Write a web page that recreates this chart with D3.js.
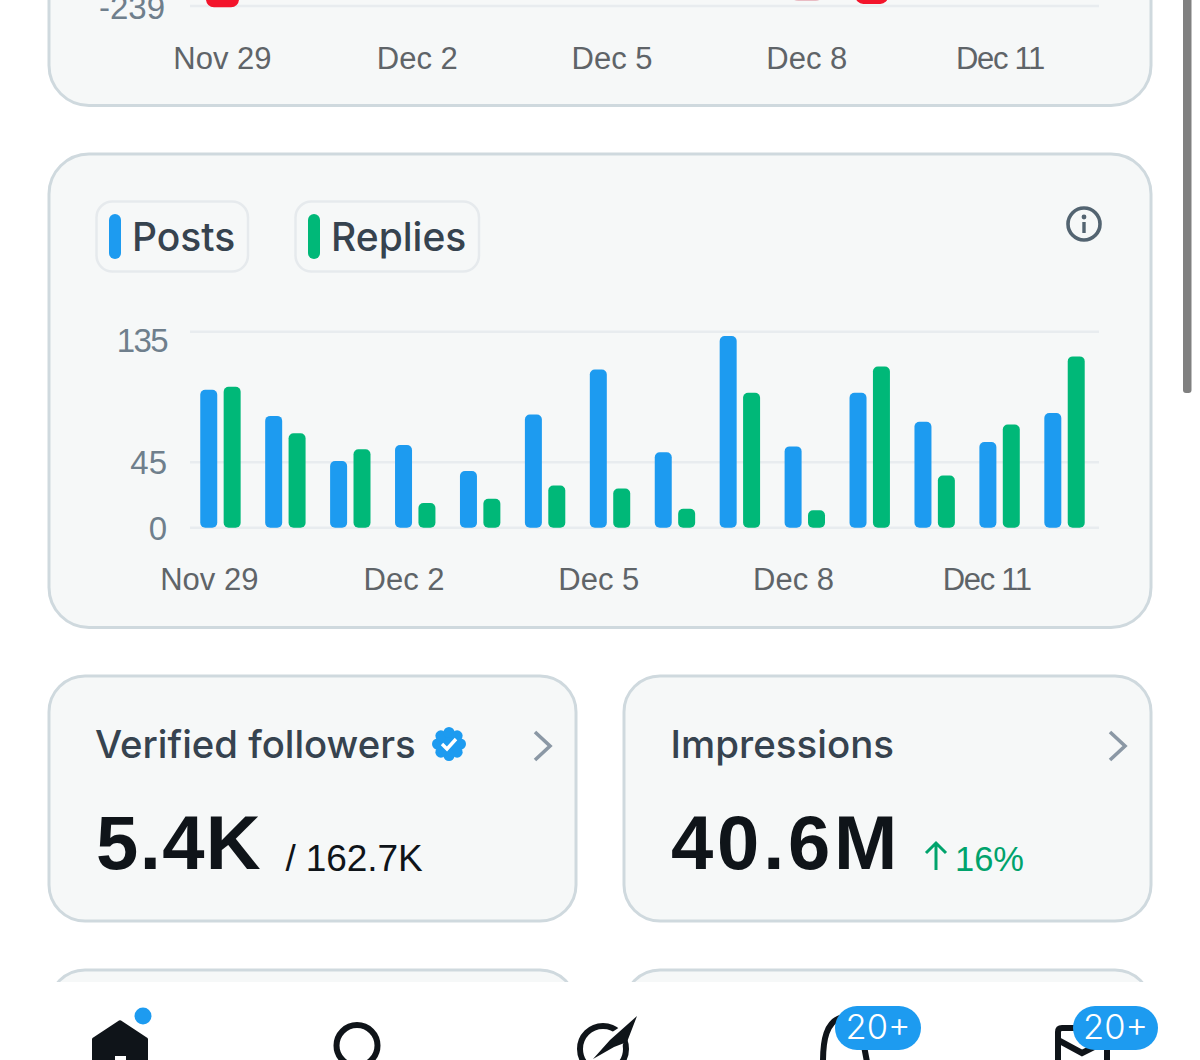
<!DOCTYPE html>
<html><head><meta charset="utf-8">
<script src="https://cdn.jsdelivr.net/npm/d3@7"></script>
<style>
html,body{margin:0;padding:0;background:#fff;overflow:hidden}
svg{display:block}
.ax{font-family:"Liberation Sans",Arial,sans-serif}
.ui{font-family:Inter,"Noto Sans",sans-serif}
</style></head><body>
<svg id="c" width="1200" height="1060" viewBox="0 0 1200 1060"></svg>
<script>
const dates=["Nov 29","Nov 30","Dec 1","Dec 2","Dec 3","Dec 4","Dec 5","Dec 6","Dec 7","Dec 8","Dec 9","Dec 10","Dec 11","Dec 12"];
const posts=[95,77,46,57,39,78,109,52,132,56,93,73,59,79];
const replies=[97,65,54,17,20,29,27,13,93,12,111,36,71,118];
const yTickValues=[0,45,135];
const xTickDates=["Nov 29","Dec 2","Dec 5","Dec 8","Dec 11"];
const topDates=["Nov 29","Dec 8","Dec 9"];
const topValues=[-240.6,-233,-236.5];
const topColors=["#f3142b","#e9bcc4","#f3142b"];
const seriesNames=["Posts","Replies"];
const seriesColors=["#1d9bf0","#00b878"];

const svg=d3.select("#c");
const CARD="#f6f8f8",EDGE="#cfd9de",GRID="#e8ecef";
function card(x,y,w,h,r){svg.append("rect").attr("x",x).attr("y",y).attr("width",w).attr("height",h).attr("rx",r).attr("fill",CARD).attr("stroke",EDGE).attr("stroke-width",3);}
card(49,-200,1102,305.5,40);
card(49,154,1102,473.5,40);
card(49,676,527,245,36);
card(624,676,527,245,36);
card(49,970,527,245,36);
card(624,970,527,245,36);
const tight=d=>d==="Dec 11"?"-1.3px":null;
const nudge=d=>d==="Dec 11"?"-1.6":0;

/* top (cropped) chart */
const x=d3.scaleBand().domain(dates).range([188,1097]).paddingInner(0).paddingOuter(0);
const yTop=d3.scaleLinear().domain([0,-239]).range([-190,6]);
svg.append("line").attr("x1",190).attr("x2",1099).attr("y1",yTop(-239)).attr("y2",yTop(-239)).attr("stroke",GRID).attr("stroke-width",2.5);
svg.append("g").selectAll("rect").data(topDates).join("rect")
 .attr("x",d=>x(d)+18).attr("width",33)
 .attr("y",(d,i)=>yTop(0)).attr("height",(d,i)=>yTop(topValues[i])-yTop(0))
 .attr("rx",8).attr("fill",(d,i)=>topColors[i]);
svg.append("text").attr("class","ax").attr("x",165).attr("y",19).attr("text-anchor","end").attr("font-size",33).attr("fill","#6f7f8c").text("-239");
const topAxis=svg.append("g").attr("transform","translate(0,69)");
topAxis.selectAll("text").data(xTickDates).join("text").attr("class","ax")
 .attr("x",d=>x(d)+x.bandwidth()/2-9.5+11.5).attr("dx",nudge).attr("text-anchor","middle").attr("font-size",31).attr("fill","#5f6468").style("letter-spacing",tight).text(d=>d);

/* main chart */
const group=d3.scaleBand().domain(seriesNames).range([12.25,52.65]).paddingInner(0.274);
const y=d3.scaleLinear().domain([0,135]).range([527.7,331.7]);
const grid=svg.append("g");
grid.selectAll("line").data(yTickValues).join("line").attr("x1",190).attr("x2",1099)
 .attr("y1",d=>y(d)).attr("y2",d=>y(d)).attr("stroke",GRID).attr("stroke-width",2.5);
[posts,replies].forEach((vals,s)=>{
 svg.append("g").selectAll("rect").data(vals).join("rect")
  .attr("x",(d,i)=>x(dates[i])+group(seriesNames[s]))
  .attr("width",group.bandwidth())
  .attr("y",d=>y(d)).attr("height",d=>y(0)-y(d))
  .attr("rx",5).attr("fill",seriesColors[s]);
});
const yAxis=svg.append("g").attr("transform","translate(167,0)")
 .call(d3.axisLeft(y).tickValues(yTickValues).tickSize(0).tickPadding(0).tickFormat(d3.format("d")));
yAxis.select(".domain").remove();
yAxis.selectAll("text").attr("class","ax").attr("font-size",33).attr("fill","#6f7f8c").attr("font-family",null)
 .style("letter-spacing",d=>d===135?"-1.6px":null)
 .attr("dy",d=>d===135?"0.6em":"0.35em");
const xAxis=svg.append("g").attr("transform","translate(0,590)")
 .call(d3.axisBottom(d3.scalePoint().domain(dates).range([208.8,208.8+13*64.92])).tickValues(xTickDates).tickSize(0).tickPadding(0));
xAxis.select(".domain").remove();
xAxis.selectAll("text").attr("class","ax").attr("font-size",31).attr("fill","#5f6468").attr("font-family",null).attr("y",0).attr("dy",0).attr("dx",nudge).style("letter-spacing",tight);

/* legend */
const lg=[{bx:96.5,bw:151.5,sx:109,tx:132},{bx:295.5,bw:183.5,sx:308,tx:331}];
lg.forEach((l,i)=>{
 svg.append("rect").attr("x",l.bx).attr("y",201.5).attr("width",l.bw).attr("height",70).attr("rx",16).attr("fill",CARD).attr("stroke","#e6eaed").attr("stroke-width",2.5);
 svg.append("rect").attr("x",l.sx).attr("y",214).attr("width",12).attr("height",45).attr("rx",6).attr("fill",seriesColors[i]);
 svg.append("text").attr("class","ui").attr("x",l.tx).attr("y",251).attr("font-size",39).attr("font-weight",500).attr("fill","#36434f").text(seriesNames[i]);
});
/* info icon */
const info=svg.append("g").attr("transform","translate(1084,224)");
info.append("circle").attr("r",16).attr("fill","none").attr("stroke","#536471").attr("stroke-width",3.6);
info.append("circle").attr("cy",-7).attr("r",2.4).attr("fill","#536471");
info.append("rect").attr("x",-1.7).attr("y",-2).attr("width",3.4).attr("height",11).attr("fill","#536471");

/* stat cards */
const T=(cls,x0,yy,size,weight,fill,txt)=>svg.append("text").attr("class",cls).attr("x",x0).attr("y",yy).attr("font-size",size).attr("font-weight",weight).attr("fill",fill).text(txt);
T("ui",95,758,38.3,500,"#36434f","Verified followers");
T("ui",670.5,758,38.5,500,"#36434f","Impressions");
T("ax",96,869,76,700,"#0f1419","5.4K").style("letter-spacing","1.4px");
T("ax",671,869,76,700,"#0f1419","40.6M").style("letter-spacing","3.8px");
T("ax",285.5,871,37,400,"#0f1419","/ 162.7K").style("letter-spacing","-0.1px");
T("ax",955,871,34.5,400,"#00a36c","16%");
svg.append("path").attr("d","M936 870V843M926 853L936 843L946 853").attr("fill","none").attr("stroke","#00a36c").attr("stroke-width",3);
[535,1110].forEach(cx=>svg.append("path").attr("d",`M${cx} 732L${cx+15} 746L${cx} 760`).attr("fill","none").attr("stroke","#8b98a5").attr("stroke-width",3.6));
/* badge */
const b=svg.append("g").attr("transform","translate(449,744)");
b.append("circle").attr("r",13.5).attr("fill","#1d9bf0");
d3.range(8).forEach(i=>b.append("circle").attr("cx",11.5*Math.cos(i*Math.PI/4)).attr("cy",11.5*Math.sin(i*Math.PI/4)).attr("r",5.5).attr("fill","#1d9bf0"));
b.append("path").attr("d","M-7 0L-2 5L7 -5").attr("fill","none").attr("stroke","#fff").attr("stroke-width",3.4);

/* bottom nav */
svg.append("rect").attr("x",0).attr("y",982).attr("width",1200).attr("height",78).attr("fill","#fff");
const INK="#0f1419";
svg.append("path").attr("d","M92 1062V1039Q92 1038 94 1037L119 1020.5Q120 1020 121 1020.5L146 1037Q148 1038 148 1039V1062Z").attr("fill",INK);
svg.append("rect").attr("x",115).attr("y",1056).attr("width",11).attr("height",6).attr("fill","#fff");
svg.append("circle").attr("cx",143).attr("cy",1016).attr("r",8.5).attr("fill","#1d9bf0");
svg.append("circle").attr("cx",357).attr("cy",1045.5).attr("r",20.5).attr("fill","none").attr("stroke",INK).attr("stroke-width",6);
svg.append("circle").attr("cx",603).attr("cy",1049).attr("r",23).attr("fill","none").attr("stroke",INK).attr("stroke-width",6);
svg.append("path").attr("d","M637 1016L622 1046L593 1059L606 1036Z").attr("fill","#fff");
svg.append("path").attr("d","M637 1016L627 1042L614 1047L593 1059L610 1040Z").attr("fill",INK);
svg.append("path").attr("d","M823 1062C823 1040 826 1022 842 1017").attr("fill","none").attr("stroke",INK).attr("stroke-width",6);
svg.append("path").attr("d","M864 1046L867 1062").attr("fill","none").attr("stroke",INK).attr("stroke-width",6);
svg.append("path").attr("d","M1058 1062V1032Q1058 1028 1062 1028H1080M1058 1040L1082 1053L1096 1046M1107 1048V1062").attr("fill","none").attr("stroke",INK).attr("stroke-width",6);
[[835,86],[1073,85]].forEach(([bx,bw])=>{
 svg.append("rect").attr("x",bx).attr("y",1006).attr("width",bw).attr("height",44).attr("rx",22).attr("fill","#1d9bf0");
 svg.append("text").attr("class","ui").attr("x",bx+bw/2).attr("y",1039).attr("text-anchor","middle").attr("font-size",34.5).attr("font-weight",300).attr("fill","#fff").text("20+");
});
/* scrollbar */
svg.append("rect").attr("x",1183).attr("y",-10).attr("width",8.5).attr("height",403).attr("rx",3).attr("fill","#808080");
</script>
</body></html>
